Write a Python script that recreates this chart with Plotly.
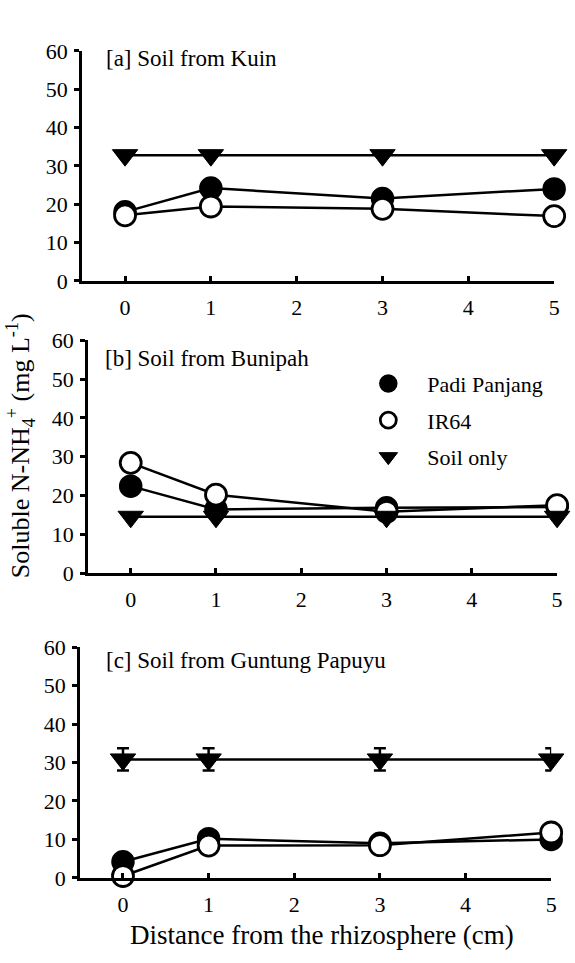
import plotly.graph_objects as go

W, H = 575, 963

distance = [0, 1, 3, 5]
x_ticks = [0, 1, 2, 3, 4, 5]
y_ticks = [0, 10, 20, 30, 40, 50, 60]

panel_titles = ["[a] Soil from Kuin", "[b] Soil from Bunipah", "[c] Soil from Guntung Papuyu"]

padi_a = [18.0, 24.2, 21.5, 24.0]
ir64_a = [17.1, 19.4, 18.8, 16.9]
soil_a = [32.8, 32.8, 32.8, 32.8]

padi_b = [22.4, 16.4, 16.8, 17.0]
ir64_b = [28.4, 20.2, 15.8, 17.5]
soil_b = [14.5, 14.5, 14.5, 14.5]

padi_c = [4.2, 10.2, 9.0, 10.0]
ir64_c = [0.5, 8.4, 8.5, 11.8]
soil_c = [30.8, 30.8, 30.8, 30.8]
soil_c_err = [2.9, 2.9, 2.9, 2.9]

series_names = ["Padi Panjang", "IR64", "Soil only"]

FONT = "Liberation Serif, Times New Roman, Times, serif"

def px_x(v):
    return v / W

def px_y(v):
    return 1 - v / H

# panel boxes in pixels: (left, right, top, bottom)
boxes = [(83, 560, 40, 276), (89, 563, 337, 576), (81, 557, 652, 889)]

fig = go.Figure()

panels = [
    (padi_a, ir64_a, soil_a, None),
    (padi_b, ir64_b, soil_b, None),
    (padi_c, ir64_c, soil_c, soil_c_err),
]

for i, (padi, ir64, soil, err) in enumerate(panels):
    xa = "x" if i == 0 else f"x{i+1}"
    ya = "y" if i == 0 else f"y{i+1}"
    fig.add_trace(go.Scatter(
        x=distance, y=padi, mode="lines+markers", xaxis=xa, yaxis=ya,
        line=dict(color="black", width=2.5),
        marker=dict(symbol="circle", size=21, color="black", line=dict(color="black", width=2.5)),
        showlegend=False, cliponaxis=False))
    fig.add_trace(go.Scatter(
        x=distance, y=ir64, mode="lines+markers", xaxis=xa, yaxis=ya,
        line=dict(color="black", width=2.5),
        marker=dict(symbol="circle", size=21, color="white", line=dict(color="black", width=2.8)),
        showlegend=False, cliponaxis=False))
    fig.add_trace(go.Scatter(
        x=distance, y=soil, mode="lines+markers", xaxis=xa, yaxis=ya,
        line=dict(color="black", width=2.5),
        marker=dict(symbol="triangle-down", size=22, color="black", line=dict(color="black", width=1)),
        error_y=(dict(type="data", array=err, visible=True, color="black", thickness=2.5, width=6)
                 if err is not None else dict(visible=False)),
        showlegend=False, cliponaxis=False))

# legend-only entries (legend sits in panel b)
legend_styles = [
    dict(symbol="circle", size=16, color="black", line=dict(color="black", width=2.5)),
    dict(symbol="circle", size=16, color="white", line=dict(color="black", width=2.8)),
    dict(symbol="triangle-down", size=16, color="black", line=dict(color="black", width=1)),
]
for name, mk in zip(series_names, legend_styles):
    fig.add_trace(go.Scatter(x=[None], y=[None], mode="markers", name=name, marker=mk,
                             legendgroup=name, showlegend=True, xaxis="x2", yaxis="y2"))

layout = dict(
    width=W, height=H, margin=dict(l=0, r=0, t=0, b=0),
    paper_bgcolor="white", plot_bgcolor="white",
    font=dict(family=FONT, size=22, color="black"),
    showlegend=True,
    legend=dict(x=px_x(353), y=px_y(360), xanchor="left", yanchor="top",
                font=dict(family=FONT, size=22, color="black"),
                bgcolor="rgba(0,0,0,0)", tracegroupgap=5, itemwidth=68,
                traceorder="grouped"),
)

annotations = []
for i, (l, r, t, b) in enumerate(boxes):
    xk = "xaxis" if i == 0 else f"xaxis{i+1}"
    yk = "yaxis" if i == 0 else f"yaxis{i+1}"
    ya = "y" if i == 0 else f"y{i+1}"
    xa = "x" if i == 0 else f"x{i+1}"
    layout[xk] = dict(
        domain=[px_x(l), px_x(r)], anchor=ya, range=[-0.5, 5.0],
        tickmode="array", tickvals=x_ticks, ticktext=[str(v) for v in x_ticks],
        ticks="inside", ticklen=5, tickwidth=2.5, tickcolor="black",
        showline=True, linecolor="black", linewidth=3,
        showgrid=False, zeroline=False, ticklabelstandoff=5,
        tickfont=dict(family=FONT, size=22, color="black"),
    )
    layout[yk] = dict(
        domain=[px_y(b), px_y(t)], anchor=xa, range=[0, 60],
        tickmode="array", tickvals=y_ticks, ticktext=[str(v) for v in y_ticks],
        ticks="outside", ticklen=5, tickwidth=2.5, tickcolor="black",
        showline=True, linecolor="black", linewidth=3,
        showgrid=False, zeroline=False, ticklabelstandoff=2,
        tickfont=dict(family=FONT, size=22, color="black"),
    )

label_pos = [(105, 48), (104, 356), (105, 666)]
for txt, (lx, ly) in zip(panel_titles, label_pos):
    annotations.append(dict(text=txt, x=px_x(lx), y=px_y(ly), xref="paper", yref="paper",
                            xanchor="left", yanchor="middle", showarrow=False,
                            font=dict(family=FONT, size=23, color="black")))

annotations.append(dict(text="Soluble N-NH<sub>4</sub><sup>+</sup> (mg L<sup>-1</sup>)",
                        x=px_x(21), y=px_y(445), xref="paper", yref="paper",
                        xanchor="center", yanchor="middle", textangle=-90, showarrow=False,
                        font=dict(family=FONT, size=26, color="black")))
annotations.append(dict(text="Distance from the rhizosphere (cm)",
                        x=px_x(325), y=px_y(948), xref="paper", yref="paper",
                        xanchor="center", yanchor="middle", showarrow=False,
                        font=dict(family=FONT, size=27, color="black")))

layout["annotations"] = annotations
fig.update_layout(**layout)

fig.write_html("out.html")
